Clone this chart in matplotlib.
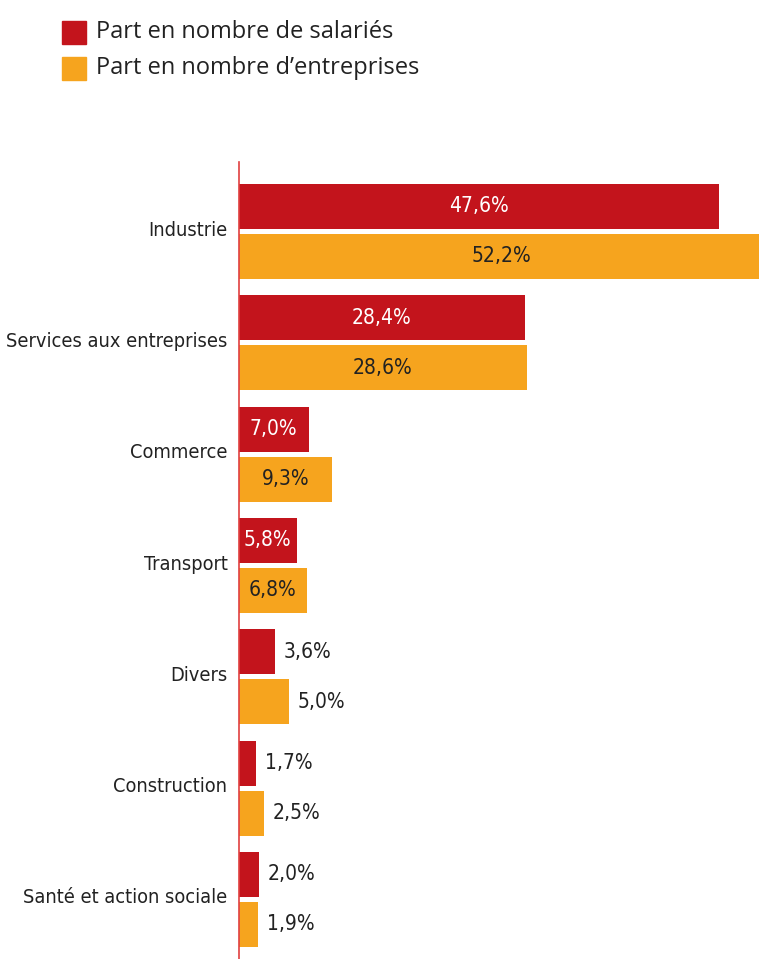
import matplotlib.pyplot as plt
from matplotlib.patches import Rectangle

# Répartition par secteur
secteurs = ['Industrie', 'Services aux entreprises', 'Commerce', 'Transport',
            'Divers', 'Construction', 'Santé et action sociale']
part_salaries = [47.6, 28.4, 7.0, 5.8, 3.6, 1.7, 2.0]
part_entreprises = [52.2, 28.6, 9.3, 6.8, 5.0, 2.5, 1.9]

rouge = '#C3141C'
orange = '#F6A41E'
texte = '#222222'
narrow = dict(family='DejaVu Sans', stretch='condensed')

fig = plt.figure(figsize=(7.59, 9.59), dpi=100)
W, H = 759, 959
ax = fig.add_axes([238.5 / W, 0, 1 - 238.5 / W, 1 - 162 / H])

pos = list(range(len(secteurs)))
h = 45 / 111.3
off = 25 / 111.3
bars_r = ax.barh([p - off for p in pos], part_salaries, height=h, color=rouge)
bars_o = ax.barh([p + off for p in pos], part_entreprises, height=h, color=orange)

ax.set_xlim(0, 51.6)
ax.set_ylim(6.536, -0.624)


def fmt(v):
    return f'{v:.1f}'.replace('.', ',') + '%'


def etiquettes(bars, values, inside_color):
    for b, v in zip(bars, values):
        y = b.get_y() + b.get_height() / 2
        if v > 5.5:
            ax.text(v / 2, y, fmt(v), ha='center', va='center', color=inside_color,
                    fontsize=15, **narrow)
        else:
            ax.annotate(fmt(v), (v, y), xytext=(9, 0), textcoords='offset pixels',
                        ha='left', va='center', color=texte, fontsize=15, **narrow)


etiquettes(bars_r, part_salaries, 'white')
etiquettes(bars_o, part_entreprises, texte)

ax.set_yticks([p - 0.03 for p in pos])
ax.set_yticklabels(secteurs, fontsize=14.3, color=texte, **narrow)
ax.tick_params(axis='y', length=0, pad=8)
ax.set_xticks([])
for s in ['top', 'right', 'bottom']:
    ax.spines[s].set_visible(False)
ax.spines['left'].set_color('#E04040')
ax.spines['left'].set_linewidth(1.2)

# légende en haut à gauche
for yy, col, lab in [(21, rouge, 'Part en nombre de salariés'),
                     (57, orange, 'Part en nombre d\u2019entreprises')]:
    fig.patches.append(Rectangle((62 / W, 1 - (yy + 23) / H), 24 / W, 23 / H,
                                 transform=fig.transFigure, color=col))
    fig.text(96 / W, 1 - (yy + 11.5) / H, lab, ha='left', va='center',
             fontsize=17, family='Open Sans', color=texte)

fig.savefig('out.png', dpi=100)
